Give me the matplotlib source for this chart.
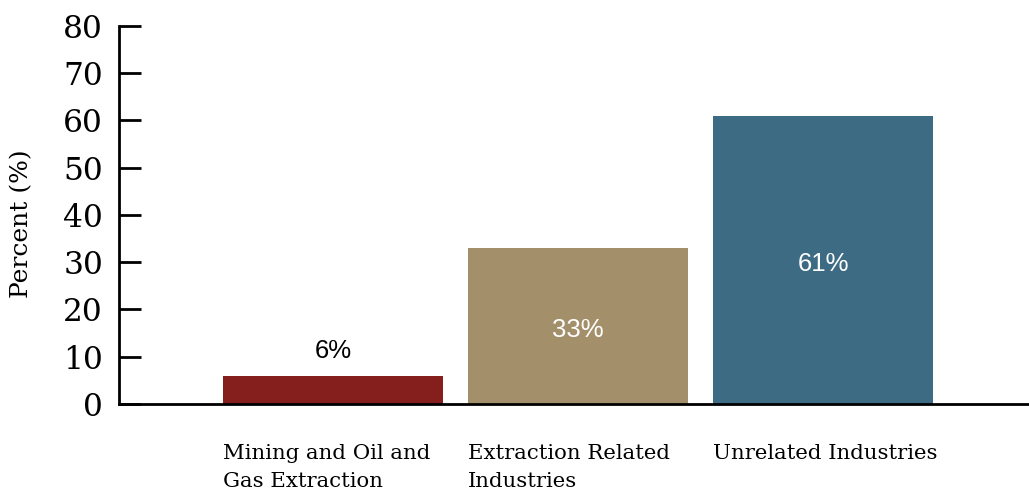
import matplotlib
matplotlib.use('Agg')
import matplotlib.pyplot as plt
import numpy as np

# employment share by industry group
categories = ['Mining and Oil and\nGas Extraction', 'Extraction Related\nIndustries', 'Unrelated Industries']
shares = [6, 33, 61]
colors = ['#851f1e', '#a3906a', '#3c6b83']
yticks = [0, 10, 20, 30, 40, 50, 60, 70, 80]

serif = 'DejaVu Serif'
sans = 'Liberation Sans'

fig = plt.figure(figsize=(10.29, 4.9), dpi=100)
ax = fig.add_axes([0.1157, 0.1755, 0.8843, 0.7715])

x = np.arange(len(categories))
width = 0.898
ax.bar(x, shares, width=width, color=colors, zorder=2)

# value labels: inside the bar when it is tall enough, otherwise above it
for xi, v in zip(x, shares):
    if v < 15:
        ax.text(xi, v + 5.2, f'{v}%', ha='center', va='center', fontsize=18.5,
                family=sans, color='black')
    else:
        ax.text(xi, v / 2 - 0.8, f'{v}%', ha='center', va='center', fontsize=18.5,
                family=sans, color='white')

ax.set_xlim(-0.873, 2.84)
ax.set_ylim(0, 80)
ax.set_yticks(yticks)
ax.set_yticklabels([str(t) for t in yticks], fontsize=22.5, family=serif)
ax.tick_params(axis='y', direction='in', length=16, width=2, pad=11.5)

# category names left aligned under each bar
ax.set_xticks(x - width / 2)
ax.set_xticklabels(categories, ha='left', fontsize=15.3, family=serif,
                   linespacing=1.55)
ax.tick_params(axis='x', length=0, pad=29)

ax.set_ylabel('Percent (%)', fontsize=18, family=serif)
ax.yaxis.set_label_coords(-0.094, 0.476)

for side in ['top', 'right']:
    ax.spines[side].set_visible(False)
for side in ['left', 'bottom']:
    ax.spines[side].set_linewidth(2)

fig.savefig('out.png', dpi=100)
